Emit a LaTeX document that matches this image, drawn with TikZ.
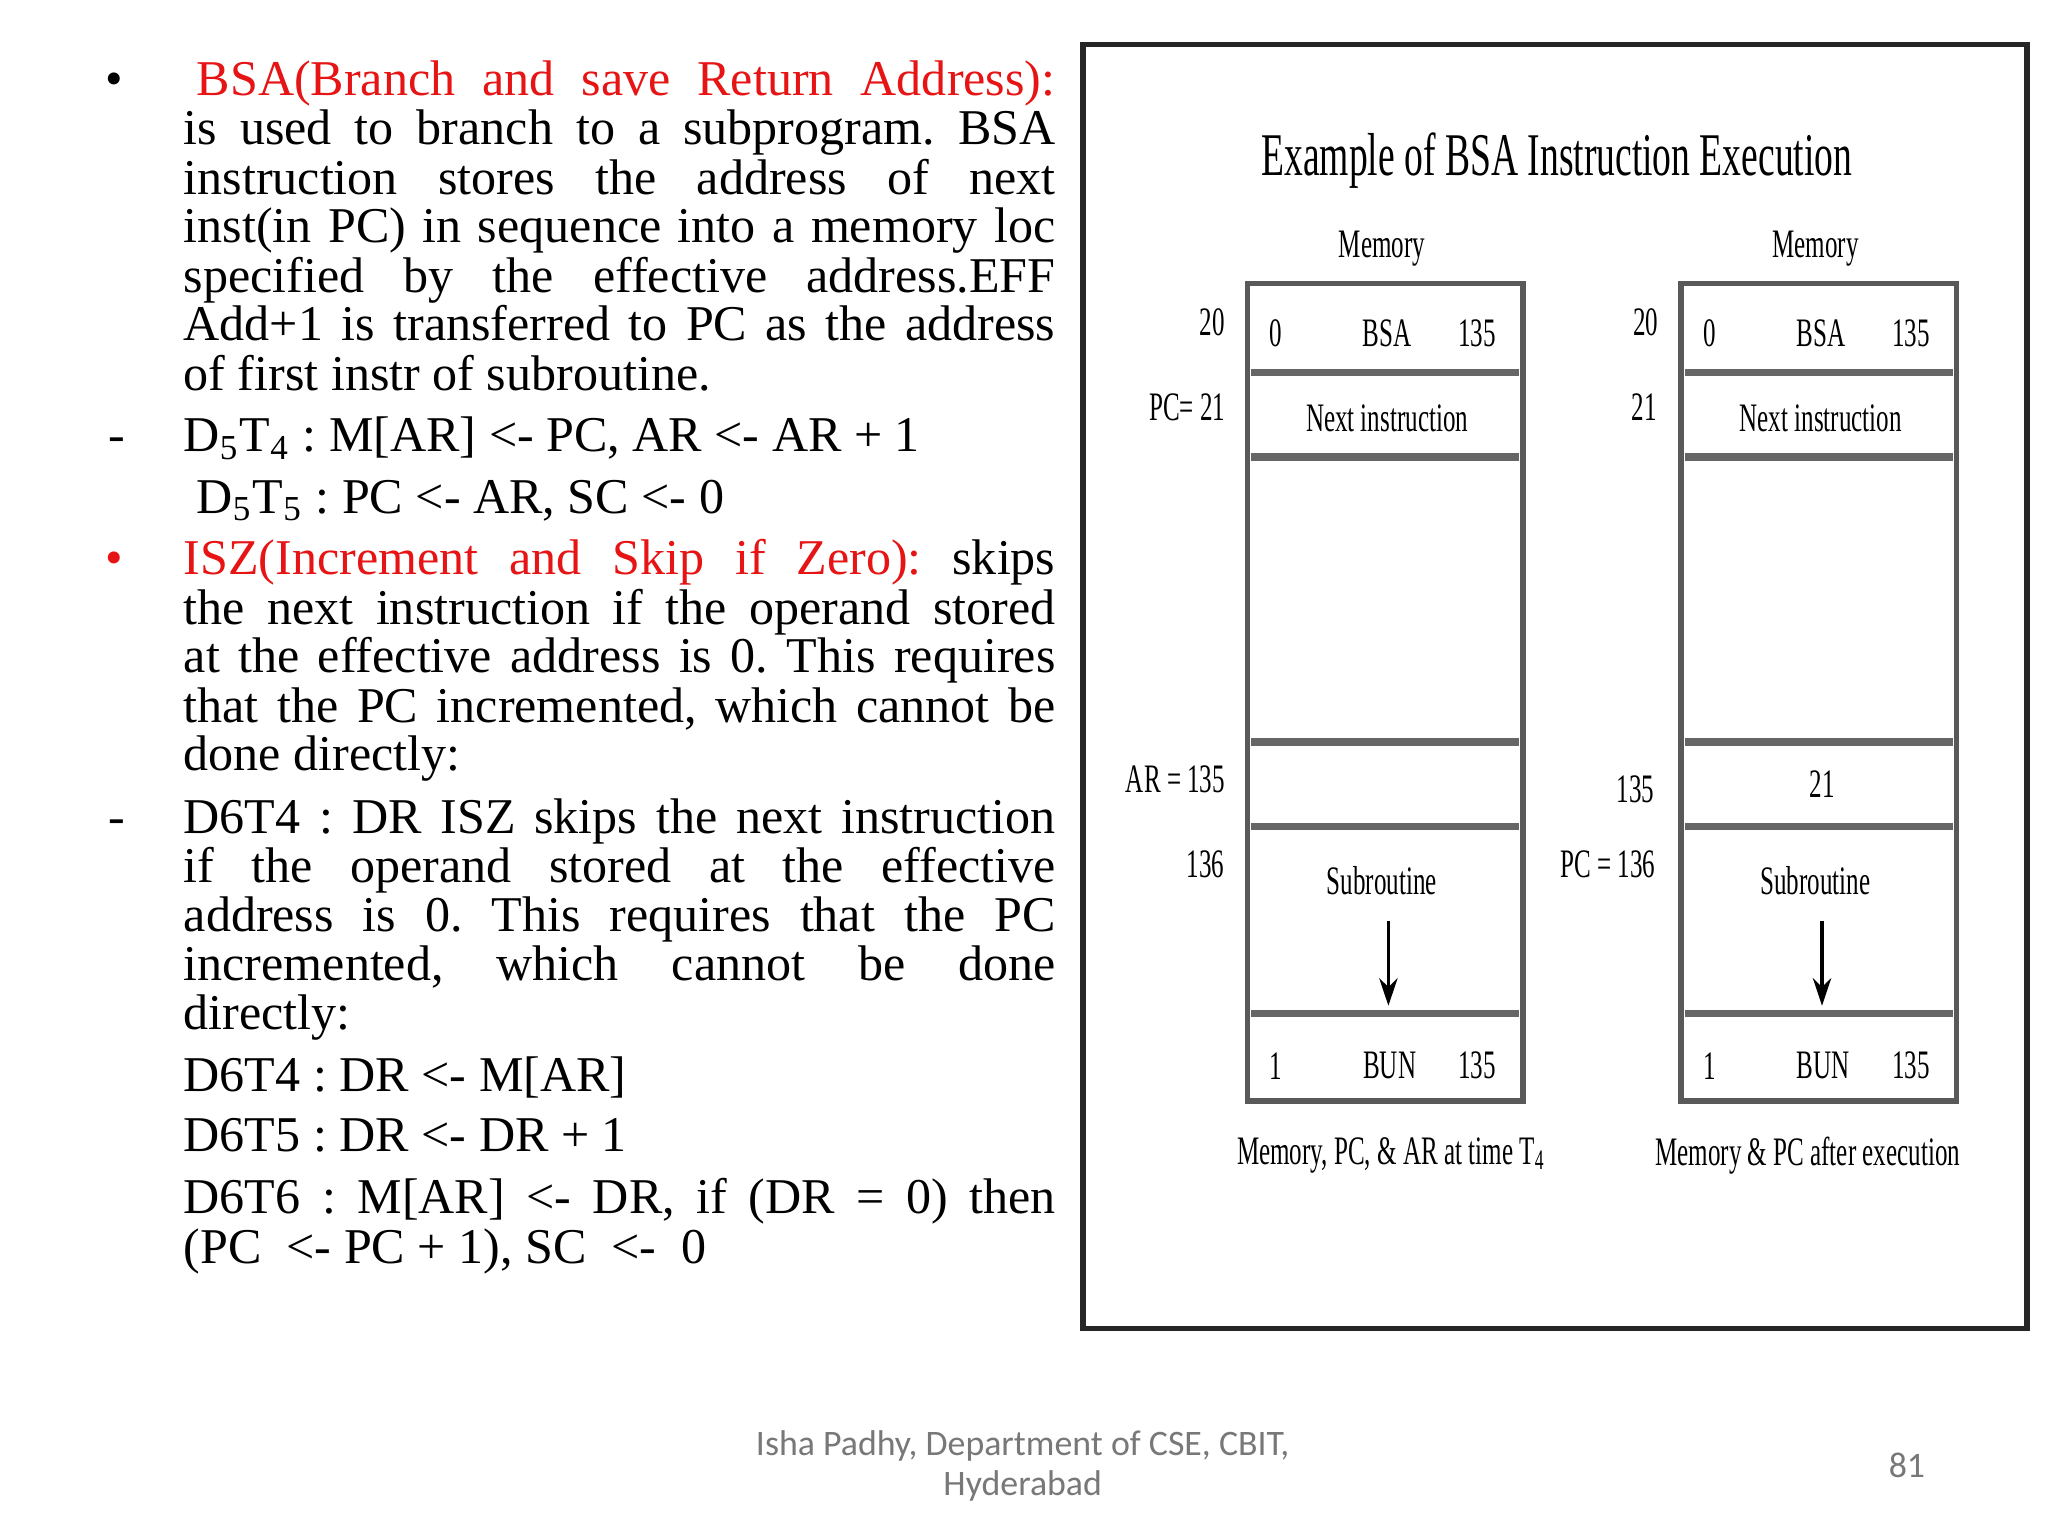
\documentclass[tikz,border=0pt]{standalone}
\usepackage{fontspec}
\setmainfont{Liberation Serif}
\newfontfamily\footfont{Carlito}
\usetikzlibrary{arrows.meta}
\definecolor{bsared}{RGB}{230,20,20}
\definecolor{footgray}{RGB}{120,120,120}
\tikzset{
  ln/.style={anchor=base west,inner sep=0pt,font=\fontsize{10.9}{13}\selectfont},
  dg/.style={inner sep=0pt,font=\fontsize{8.8}{10}\selectfont},
  sep/.style={line width=1.6pt,black!60},
  ft/.style={inner sep=0pt,font=\footfont\fontsize{7.8}{9}\selectfont,text=footgray}
}
\frenchspacing
\newcommand{\jl}[1]{\makebox[6.67cm][s]{#1}}
\newcommand{\cn}[1]{\scalebox{0.62}[1]{#1}}
\begin{document}
\begin{tikzpicture}[x=0.01cm,y=-0.01cm]
\useasboundingbox[fill=white] (0,0) rectangle (1568,1176);
% left text
\node[ln] (b1) at (80,73) {•};
\node[ln] (l1) at (150,73) {\makebox[6.57cm][s]{\color{bsared}BSA(Branch and save Return Address):}};
\node[ln] (l2) at (140,111) {\jl{is used to branch to a subprogram. BSA}};
\node[ln] (l3) at (140,149) {\jl{instruction stores the address of next}};
\node[ln] (l4) at (140,186) {\jl{inst(in PC) in sequence into a memory loc}};
\node[ln] (l5) at (140,224) {\jl{specified by the effective address.EFF}};
\node[ln] (l6) at (140,261) {\jl{Add+1 is transferred to PC as the address}};
\node[ln] (l7) at (140,299) {of first instr of subroutine.};
\node[ln] (d1) at (82,346) {-};
\node[ln] (l8) at (140,346) {D\textsubscript{5}T\textsubscript{4} : M[AR] <- PC, AR <- AR + 1};
\node[ln] (l9) at (150,393) {D\textsubscript{5}T\textsubscript{5} : PC <- AR, SC <- 0};
\node[ln,text=bsared] (b2) at (80,440) {•};
\node[ln] (m1) at (140,440) {\jl{{\color{bsared}ISZ(Increment and Skip if Zero):} skips}};
\node[ln] (m2) at (140,478) {\jl{the next instruction if the operand stored}};
\node[ln] (m3) at (140,515) {\jl{at the effective address is 0. This requires}};
\node[ln] (m4) at (140,553) {\jl{that the PC incremented, which cannot be}};
\node[ln] (m5) at (140,590) {done directly:};
\node[ln] (d2) at (82,638) {-};
\node[ln] (n1) at (140,638) {\jl{D6T4 : DR ISZ skips the next instruction}};
\node[ln] (n2) at (140,676) {\jl{if the operand stored at the effective}};
\node[ln] (n3) at (140,713) {\jl{address is 0. This requires that the PC}};
\node[ln] (n4) at (140,751) {\jl{incremented, which cannot be done}};
\node[ln] (n5) at (140,788) {directly:};
\node[ln] (n6) at (140,836) {D6T4 : DR <- M[AR]};
\node[ln] (n7) at (140,882) {D6T5 : DR <- DR + 1};
\node[ln] (n8) at (140,929) {\jl{D6T6 : M[AR] <- DR, if (DR = 0) then}};
\node[ln] (n9) at (140,967) {(PC~ <- PC + 1), SC~ <-~ 0};
% frame
\draw[line width=1.2pt,black!85] (829,34) rectangle (1552,1017);
\node[inner sep=0pt,font=\fontsize{13.2}{14}\selectfont] (title) at (1192,123) {\cn{Example of BSA Instruction Execution}};
% memories
\foreach \dx/\nm in {0/A,332/B}{
  \begin{scope}[xshift=\dx*0.01cm]
  \draw[line width=1.2pt,black!65] (955,217) rectangle (1166,843);
  \foreach \yy in {285,350,568,633,776} \draw[sep] (958,\yy) -- (1163,\yy);
  \node[dg] (mem\nm) at (1058,190) {\cn{Memory}};
  \node[dg] (z\nm) at (977,255) {\cn{0}};
  \node[dg] (bsa\nm) at (1062,255) {\cn{BSA}};
  \node[dg] (t\nm) at (1131,255) {\cn{135}};
  \node[dg] (ni\nm) at (1062,320) {\cn{Next instruction}};
  \node[dg] (sub\nm) at (1058,674) {\cn{Subroutine}};
  \coordinate (as\nm) at (1063,705);
  \coordinate (ae\nm) at (1063,770);
  \draw[line width=0.7pt,-{Stealth[length=6pt,width=4pt]}] (as\nm) -- (ae\nm);
  \node[dg] (o\nm) at (977,816) {\cn{1}};
  \node[dg] (bun\nm) at (1064,816) {\cn{BUN}};
  \node[dg] (u\nm) at (1131,816) {\cn{135}};
  \end{scope}
}
\node[dg] (a20) at (928,247) {\cn{20}};
\node[dg] (apc) at (909,312) {\cn{PC= 21}};
\node[dg] (aar) at (900,597) {\cn{AR = 135}};
\node[dg] (a136) at (923,662) {\cn{136}};
\node[dg] (b20) at (1260,247) {\cn{20}};
\node[dg] (b21) at (1259,312) {\cn{21}};
\node[dg] (b135) at (1252,604) {\cn{135}};
\node[dg] (bpc) at (1231,662) {\cn{PC = 136}};
\node[dg] (r21) at (1395,600) {\cn{21}};
\node[dg] (capA) at (1065,885) {\cn{Memory, PC, \& AR at time T\textsubscript{4}}};
\node[dg] (capB) at (1384,885) {\cn{Memory \& PC after execution}};
% footer
\node[ft] (f1) at (783,1107) {Isha Padhy, Department of CSE, CBIT,};
\node[ft] (f2) at (783,1138) {Hyderabad};
\node[ft] (pg) at (1460,1122) {81};
\end{tikzpicture}
\end{document}
